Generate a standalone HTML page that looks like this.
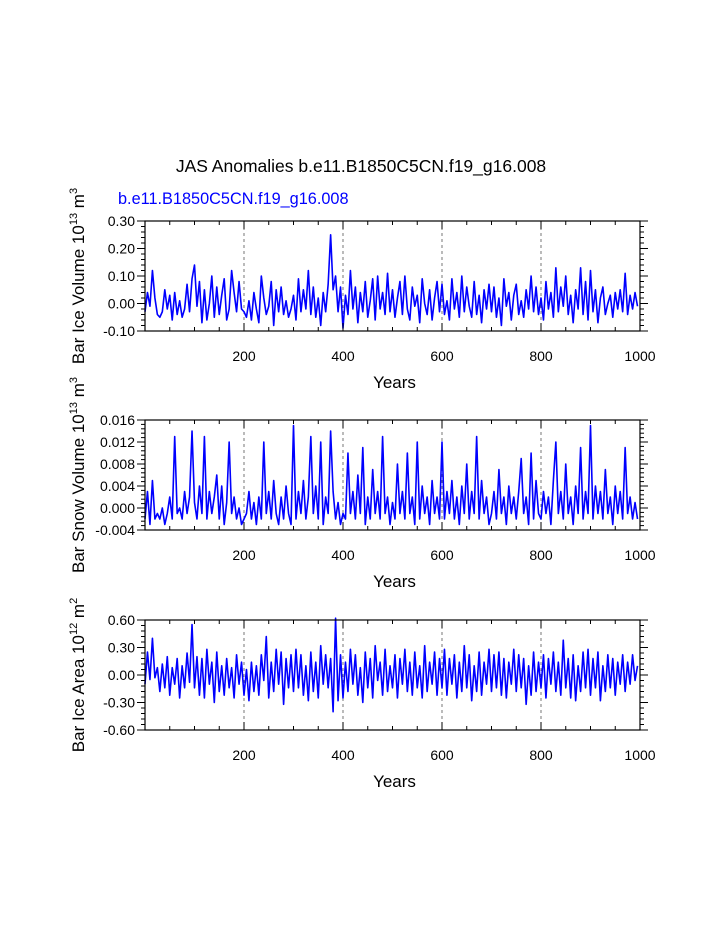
<!DOCTYPE html>
<html><head><meta charset="utf-8"><style>
body{margin:0;background:#fff;}
svg{display:block;font-family:"Liberation Sans",Arial,sans-serif;}
</style></head><body>
<svg id="chart" width="723" height="935" xmlns="http://www.w3.org/2000/svg">
<text x="361" y="172" font-size="17.5" text-anchor="middle">JAS Anomalies b.e11.B1850C5CN.f19_g16.008</text>
<text x="118" y="204" font-size="16.3" fill="#0000ff">b.e11.B1850C5CN.f19_g16.008</text>
</svg>
<script>
const years = Array.from({length:200},(_, i)=>i*5);
const iceVolume = [-3,4,-1,12,2,-4,-5,-3,5,-2,3,-6,4,-4,1,-5,-2,7,-3,9,
14,-1,8,-7,5,-6,0,10,-5,6,-4,3,9,-6,-2,12,4,-3,8,-2,
-3,-5,1,-6,4,-2,-7,10,2,-4,-1,8,-8,5,-3,6,-4,1,-5,-2,
3,-6,9,-3,5,-2,12,-4,6,-5,2,-8,4,-3,7,25,5,10,-3,6,
-9,3,-4,12,-2,6,-7,4,-3,8,-5,1,9,-6,10,-2,4,-4,11,-3,
5,-5,2,8,-4,10,-2,-6,6,-1,3,-7,9,0,-4,5,-6,2,8,-3,
7,-4,1,-6,9,-2,4,-5,10,-3,6,-1,-5,8,-4,3,-7,5,-2,7,
-3,6,-5,2,-8,9,-1,4,-6,3,7,-4,1,-5,5,-2,10,-3,6,-4,
2,-6,8,-2,4,-5,13,-3,6,-1,10,-4,3,-7,5,-2,13,-4,8,-6,
12,-3,5,-7,2,6,-4,0,3,-5,4,-2,5,-3,11,-4,3,-2,4,-1].map(v=>v/100);
const snowVolume = [-2,3,-3,5,-2,-1,-2,0,-3,-1,2,-2,13,-1,0,-2,3,-1,2,14,
1,-2,4,-1,13,-2,3,-1,2,6,-2,4,-3,1,12,-1,2,-2,0,-3,
-2,-1,3,-2,1,-3,2,-2,12,-1,3,-2,5,-1,-3,2,-2,4,-1,-3,
15,-2,3,-1,5,-2,2,13,-1,4,-2,12,-3,2,-1,14,3,-2,1,-3,
-1,-2,10,-1,3,-2,6,-1,11,-3,2,-2,7,-1,3,-2,13,-1,2,-3,
1,-2,8,-1,3,-2,10,-1,2,-3,12,-2,4,-1,2,-3,5,-1,2,-2,
12,-2,3,-1,5,-2,2,-3,4,-1,8,-2,3,-1,13,-2,5,-1,2,-3,
-1,3,-2,7,-1,2,-3,4,-1,2,-2,3,9,-1,2,-3,10,-2,5,-1,
-2,3,-1,2,-3,5,12,-1,3,-2,8,-1,2,-3,4,-1,11,-2,3,-1,
15,-2,4,-1,3,-2,7,-1,2,-3,4,-1,3,-2,11,-1,2,-2,1,-2].map(v=>v/1000);
const iceArea = [-10,25,-5,40,-3,8,-18,12,-14,20,-22,8,-10,18,-25,10,-14,24,-8,55,
-14,20,-22,18,-25,28,-10,14,-30,25,-18,10,-22,18,-14,8,-25,22,-10,14,
-22,6,-28,14,-18,10,-22,22,-6,42,-25,14,-18,28,-10,25,-32,18,-14,22,
-18,28,-14,22,-22,10,-28,25,-18,14,-25,32,-10,22,-14,18,-40,62,-28,22,
-25,14,-18,28,-10,22,-22,8,-30,25,-14,18,-25,32,-6,14,-22,28,-18,10,
-14,22,-25,18,-10,28,-18,14,-22,25,-14,10,-25,32,-18,14,-10,25,-22,18,
-14,28,-22,18,-10,22,-25,14,-18,32,-14,22,-28,10,-18,25,-22,14,-10,28,
-18,22,-14,25,-22,18,-25,14,-10,28,-18,22,-14,18,-32,10,-22,25,-18,14,
-14,22,-25,18,-10,25,-18,14,-22,38,-14,18,-25,22,-28,10,-18,25,-14,28,
-22,18,-14,25,-28,10,-18,22,-14,18,-22,14,-10,22,-18,14,-10,22,-6,10].map(v=>v/100);
const xTicks = [200,400,600,800,1000];
const iceVolTicks = [0.30,0.20,0.10,0.00,-0.10];
const snowTicks = [0.016,0.012,0.008,0.004,0.000,-0.004];
const areaTicks = [0.60,0.30,0.00,-0.30,-0.60];

const NS="http://www.w3.org/2000/svg";
const svg=document.getElementById('chart');
function mk(tag,attrs,parent){const e=document.createElementNS(NS,tag);for(const k in attrs)e.setAttribute(k,attrs[k]);(parent||svg).appendChild(e);return e;}
const X0=145,X1=640;
const xs=v=>X0+(v-0)/(1000-0)*(X1-X0);

function panel(name,top,vals,ticks,dec,label,sup1,sup2){
  const bot=top+110, ymax=ticks[0], ymin=ticks[ticks.length-1];
  const ys=v=>top+(ymax-v)/(ymax-ymin)*(bot-top);
  const g=mk('g',{});
  
  
  xTicks.slice(0,4).forEach(t=>{
    const l=mk('line',{x1:xs(t),x2:xs(t),y1:top,y2:bot,stroke:'#555','stroke-width':0.8,'stroke-dasharray':'3,3'},g);
    
    
  });
  const d=vals.map((v,i)=>(i?'L':'M')+xs(years[i]).toFixed(2)+','+ys(v).toFixed(2)).join('');
  const p=mk('path',{d:d,fill:'none',stroke:'#0000ff','stroke-width':1.6,'stroke-linejoin':'round'},g);
  
  
  const r=mk('rect',{x:X0,y:top,width:X1-X0,height:bot-top,fill:'none',stroke:'#000','stroke-width':1.2},g);
  
  
  for(let t=50;t<=1000;t+=50){
    const maj=t%200===0, len=maj?8:4;
    mk('line',{x1:xs(t),x2:xs(t),y1:bot,y2:bot-len,stroke:'#000','stroke-width':1},g);
    mk('line',{x1:xs(t),x2:xs(t),y1:top,y2:top+len,stroke:'#000','stroke-width':1},g);
  }
  xTicks.forEach(t=>{
    const tx=mk('text',{x:xs(t),y:bot+30,'font-size':14,'text-anchor':'middle'},g);
    
    
    tx.textContent=t;
  });
  const step=(ymax-ymin)/(ticks.length-1);
  for(let i=0;i<ticks.length;i++){
    const yy=ys(ticks[i]);
    mk('line',{x1:X0,x2:X0-8,y1:yy,y2:yy,stroke:'#000','stroke-width':1},g);
    mk('line',{x1:X1,x2:X1+8,y1:yy,y2:yy,stroke:'#000','stroke-width':1},g);
    if(i<ticks.length-1)for(let k=1;k<5;k++){
      const ym=ys(ticks[i]-step*k/5);
      mk('line',{x1:X0,x2:X0-4,y1:ym,y2:ym,stroke:'#000','stroke-width':1},g);
      mk('line',{x1:X1,x2:X1+4,y1:ym,y2:ym,stroke:'#000','stroke-width':1},g);
    }
    const tx=mk('text',{x:X0-10,y:yy+5,'font-size':14,'text-anchor':'end'},g);
    
    
    tx.textContent=ticks[i].toFixed(dec);
  }
  const xt=mk('text',{x:(X0+X1)/2+2,y:bot+57,'font-size':17,'text-anchor':'middle'},g);
  
  
  xt.textContent='Years';
  const yt=mk('text',{transform:`translate(84,${(top+bot)/2}) rotate(-90)`,'font-size':17,'text-anchor':'middle'},g);
  
  
  yt.innerHTML=label+' 10<tspan font-size="11" dy="-7">'+sup1+'</tspan><tspan dy="7"> m</tspan><tspan font-size="11" dy="-7">'+sup2+'</tspan>';
}
panel('ice-volume',221,iceVolume,iceVolTicks,2,'Bar Ice Volume','13','3');
panel('snow-volume',420,snowVolume,snowTicks,3,'Bar Snow Volume','13','3');
panel('ice-area',620,iceArea,areaTicks,2,'Bar Ice Area','12','2');
</script>
</body></html>
